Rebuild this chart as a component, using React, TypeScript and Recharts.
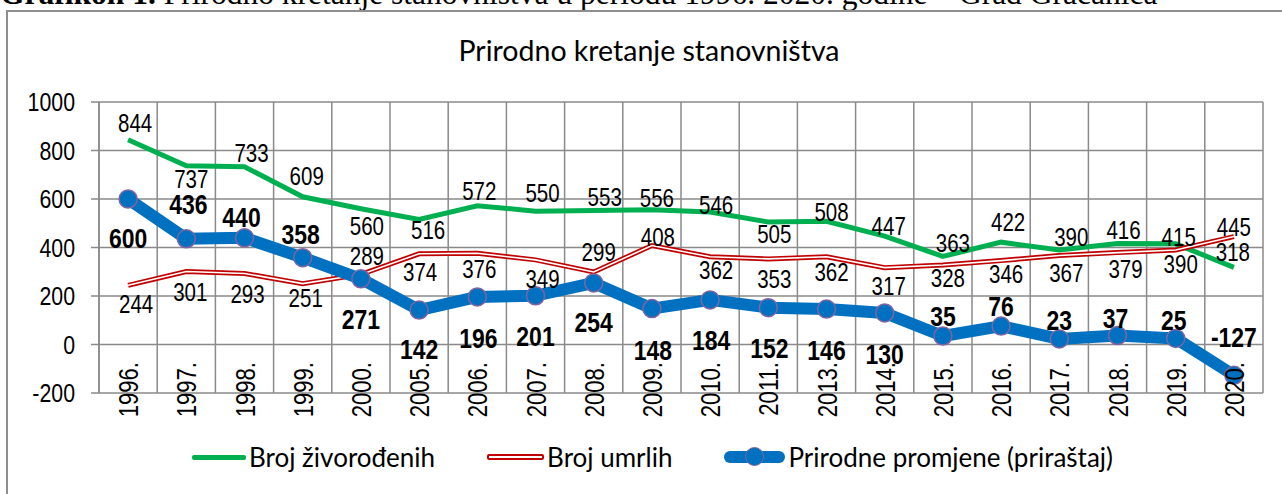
import { LineChart, Line, XAxis, YAxis, CartesianGrid } from "recharts";

const years = [
  "1996.", "1997.", "1998.", "1999.", "2000.", "2005.", "2006.", "2007.", "2008.", "2009.",
  "2010.", "2011.", "2013.", "2014.", "2015.", "2016.", "2017.", "2018.", "2019.", "2020.",
];
const births = [844, 737, 733, 609, 560, 516, 572, 550, 553, 556, 546, 505, 508, 447, 363, 422, 390, 416, 415, 318];
const deaths = [244, 301, 293, 251, 289, 374, 376, 349, 299, 408, 362, 353, 362, 317, 328, 346, 367, 379, 390, 445];
const change = [600, 436, 440, 358, 271, 142, 196, 201, 254, 148, 184, 152, 146, 130, 35, 76, 23, 37, 25, -127];
const yTicks = [-200, 0, 200, 400, 600, 800, 1000];

// label placement (offset of label centre from the point), as in the source chart
const birthsDy = [-17, 13, -14, -21, 17, 11, -15, -18, -13, -12, -7, 12, -9, -10, -13, -20, -13, -14, -7, -15];
const birthsDx = [7, 5, 7, 4, 6, 9, 2, 7, 11, 5, 6, 6, 5, 4, 10, 7, 12, 6, 3, -1];
const deathsDy = [19, 20, 21, 14, -18, 18, 16, 19, -20, -9, 13, 20, 15, 18, 13, 13, 17, 16, 14, -10];
const deathsDx = [8, 4, 3, 3, 6, 1, 2, 7, 5, 6, 6, 6, 5, 4, 5, 5, 7, 8, 5, 0];
const changeDy = [39, -35, -21, -24, 40, 39, 41, 40, 39, 41, 40, 40, 41, 41, -20, -20, -19, -18, -19, -38];
const changeDx = [0, 2, -3, -2, 0, 0, 1, 0, 0, 1, 1, 1, 0, 0, 0, 0, 0, -2, -2, 0];

const data = years.map((year, i) => ({
  year,
  births: births[i],
  deaths: deaths[i],
  change: change[i],
}));

const NARROW = 0.82;
const numFont = "'Liberation Sans', Arial, sans-serif";
const uiFont = "Lato, 'Open Sans', sans-serif";
const gridColor = "#8a8a8a";

const makeLabel = (dys: number[], dxs: number[], bold: boolean) => (props: any) => {
  const { x, y, value, index } = props;
  if (x == null || y == null) return null;
  return (
    <text
      key={`l-${index}`}
      transform={`translate(${x + dxs[index]},${y + dys[index]}) scale(${NARROW},1)`}
      textAnchor="middle"
      dy="0.36em"
      fontFamily={numFont}
      fontSize={bold ? 28 : 25}
      fontWeight={bold ? 700 : 400}
      fill="#000"
    >
      {value}
    </text>
  );
};

const YTick = (props: any) => {
  const { x, y, payload } = props;
  return (
    <text
      transform={`translate(${x},${y}) scale(${NARROW},1)`}
      textAnchor="end"
      dy="0.36em"
      fontFamily={numFont}
      fontSize={26}
      fill="#000"
    >
      {payload.value}
    </text>
  );
};

const XTick = (props: any) => {
  const { x, y, payload } = props;
  return (
    <text
      transform={`translate(${x + 10},${y - 31}) rotate(-90) scale(${NARROW},1)`}
      textAnchor="end"
      fontFamily={numFont}
      fontSize={27}
      fill="#000"
    >
      {payload.value}
    </text>
  );
};

const legendItems = [
  { name: "Broj živorođenih", kind: "green" },
  { name: "Broj umrlih", kind: "red" },
  { name: "Prirodne promjene (priraštaj)", kind: "blue" },
];

function LegendSwatch({ kind }: { kind: string }) {
  if (kind === "green") {
    return <div style={{ width: 54, height: 5, background: "#00b050", borderRadius: 2 }} />;
  }
  if (kind === "red") {
    return (
      <div
        style={{
          width: 53,
          height: 2,
          background: "#fff",
          border: "2px solid #c00000",
          borderRadius: 2,
        }}
      />
    );
  }
  return (
    <div style={{ position: "relative", width: 61, height: 20 }}>
      <div
        style={{
          position: "absolute",
          left: 0,
          top: 4,
          width: 61,
          height: 12,
          background: "#0070c0",
          borderRadius: 6,
        }}
      />
      <div
        style={{
          position: "absolute",
          left: 21,
          top: 0,
          width: 17,
          height: 17,
          borderRadius: "50%",
          background: "#0070c0",
          border: "1.5px solid #8064a2",
        }}
      />
    </div>
  );
}

export default function App() {
  return (
    <div
      style={{
        position: "fixed",
        left: 0,
        top: 0,
        width: 1282,
        height: 494,
        overflow: "hidden",
        background: "#fff",
      }}
    >
      <div
        style={{
          position: "absolute",
          left: 0,
          top: -22,
          whiteSpace: "nowrap",
          fontFamily: "'Liberation Serif', 'Times New Roman', serif",
          fontSize: 31.5,
          lineHeight: "32px",
          color: "#000",
        }}
      >
        <b>Grafikon 1.</b> Prirodno kretanje stanovništva u periodu 1996. 2020. godine – Grad Gračanica
      </div>
      <div
        style={{
          position: "absolute",
          left: 6,
          top: 10,
          width: 1282,
          height: 520,
          border: "2px solid #8f8f8f",
        }}
      />
      <div
        style={{
          position: "absolute",
          left: 8,
          width: 1282,
          top: 33,
          textAlign: "center",
          fontFamily: uiFont,
          fontSize: 28.5,
          color: "#000",
        }}
      >
        Prirodno kretanje stanovništva
      </div>
      <div style={{ position: "absolute", left: 0, top: 0 }}>
        <LineChart
          width={1282}
          height={494}
          data={data}
          margin={{ top: 102, right: 19, bottom: 0, left: 0 }}
        >
          <CartesianGrid
            stroke={gridColor}
            strokeWidth={1.5}
            verticalCoordinatesGenerator={({ offset }: any) =>
              Array.from({ length: years.length + 1 }, (_, i) => offset.left + (i * offset.width) / years.length)
            }
          />
          <XAxis
            dataKey="year"
            scale="band"
            height={101}
            axisLine={false}
            tickLine={false}
            tickSize={0}
            tickMargin={0}
            interval={0}
            tick={<XTick />}
          />
          <YAxis
            width={99}
            domain={[-200, 1000]}
            ticks={yTicks}
            interval={0}
            axisLine={{ stroke: gridColor, strokeWidth: 1.5 }}
            tickLine={{ stroke: gridColor, strokeWidth: 1.5 }}
            tickSize={8}
            tickMargin={16}
            tick={<YTick />}
          />
          <Line
            dataKey="births"
            stroke="#00b050"
            strokeWidth={5}
            dot={false}
            isAnimationActive={false}
            label={makeLabel(birthsDy, birthsDx, false)}
          />
          <Line
            dataKey="deaths"
            stroke="#c00000"
            strokeWidth={5}
            dot={false}
            isAnimationActive={false}
            label={makeLabel(deathsDy, deathsDx, false)}
          />
          <Line
            dataKey="deaths"
            stroke="#ffffff"
            strokeWidth={1.6}
            dot={false}
            isAnimationActive={false}
          />
          <Line
            dataKey="change"
            stroke="#0070c0"
            strokeWidth={12}
            strokeLinejoin="round"
            dot={{ r: 9, fill: "#0070c0", stroke: "#8064a2", strokeWidth: 1.5 }}
            isAnimationActive={false}
            label={makeLabel(changeDy, changeDx, true)}
          />
        </LineChart>
      </div>
      <div
        style={{
          position: "absolute",
          left: 192,
          top: 441,
          display: "flex",
          alignItems: "center",
          fontFamily: uiFont,
          fontSize: 26,
          color: "#000",
          whiteSpace: "nowrap",
        }}
      >
        {legendItems.map((item) => (
          <div key={item.name} style={{ display: "flex", alignItems: "center", marginRight: 52 }}>
            <LegendSwatch kind={item.kind} />
            <span style={{ marginLeft: 3 }}>{item.name}</span>
          </div>
        ))}
      </div>
    </div>
  );
}
